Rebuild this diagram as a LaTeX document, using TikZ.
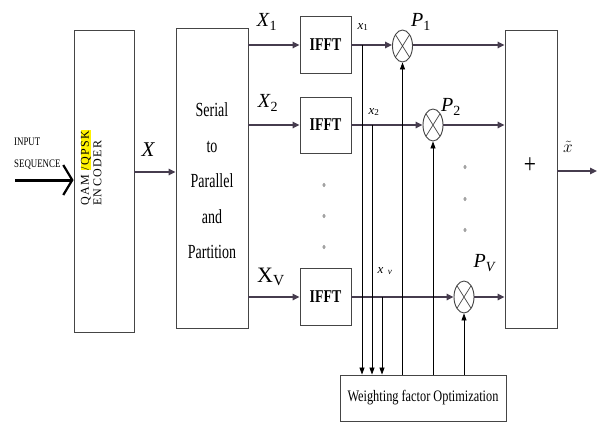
\documentclass[tikz,border=0pt]{standalone}
\usepackage{fontspec}
\setmainfont{Liberation Serif}[FakeStretch=0.77]
\newfontfamily\spfont{Liberation Serif}[FakeStretch=0.7]
\newfontfamily\lblfont{Liberation Serif}
\newfontfamily\encfont{Liberation Serif}[LetterSpace=12]
\usetikzlibrary{arrows.meta,shapes.geometric}
\definecolor{ln}{HTML}{463C4E}
\definecolor{bx}{HTML}{454545}
\begin{document}
\begin{tikzpicture}[x=1pt,y=-1pt,
  blk/.style={draw=bx,line width=0.9pt,inner sep=0pt,rectangle},
  mult/.style={draw=bx,line width=0.9pt,ellipse,minimum width=20pt,minimum height=32pt,inner sep=0pt,
    path picture={\draw[bx,line width=0.7pt] (path picture bounding box.north west)--(path picture bounding box.south east)
      (path picture bounding box.north east)--(path picture bounding box.south west);}},
  sig/.style={draw=ln,line width=1.5pt,-{Triangle[length=7pt,width=6.5pt]}},
  thin/.style={draw=black,line width=0.8pt,-{Triangle[length=7pt,width=5pt]}},
  dot/.style={ellipse,draw=gray,fill=lightgray,line width=0.5pt,inner sep=0pt,minimum width=2.5pt,minimum height=3.5pt},
  lbl/.style={font=\lblfont\fontsize{20}{20}\selectfont,inner sep=0pt},
  small/.style={font=\lblfont\fontsize{13}{13}\selectfont,inner sep=0pt},
  ifftbox/.style={blk,minimum width=51pt,font=\bfseries\fontsize{18}{18}\selectfont},
]
\useasboundingbox[fill=white] (0,0) rectangle (597,423);

% blocks
\node[blk,minimum width=60pt,minimum height=302pt] (enc) at (104,181) {};
\node[rotate=90,anchor=west,align=left,inner sep=0pt,font=\encfont\fontsize{12}{12.5}\selectfont] (enctxt) at (91,206)
  {QAM {\setlength\fboxsep{0.3pt}\colorbox{yellow}{/QPSK}}\\ENCODER};
\node[blk,minimum width=72pt,minimum height=300pt] (sp) at (212,178) {};
\node[align=center,inner sep=0pt,font=\spfont\fontsize{20}{35.5}\selectfont] (sptxt) at (212,181)
  {Serial\\to\\Parallel\\and\\Partition};
\node[ifftbox,minimum height=57pt] (f1) at (325.5,45) {IFFT};
\node[ifftbox,minimum height=56pt] (f2) at (325.5,125) {IFFT};
\node[ifftbox,minimum height=57pt] (f3) at (325.5,297) {IFFT};
\node[mult] (m1) at (402.5,46) {};
\node[mult] (m2) at (433,125) {};
\node[mult] (m3) at (464,297) {};
\node[blk,minimum width=52pt,minimum height=298pt] (sum) at (531,179) {};
\node[font=\fontsize{28}{28}\selectfont] (plus) at (530,166) {+};
\node[blk,minimum width=166pt,minimum height=46pt,font=\fontsize{16}{16}\selectfont] (wf) at (423,398) {Weighting factor Optimization};

% input
\coordinate (in) at (15,180);
\draw[line width=3pt,-{Straight Barb[length=9pt,width=30pt,line width=2.2pt]}] (in) -- (in -| enc.west);
\node[anchor=west,inner sep=0pt,font=\fontsize{11.5}{11.5}\selectfont] (tin) at (14,142) {INPUT};
\node[anchor=west,inner sep=0pt,font=\fontsize{11.5}{11.5}\selectfont] (tseq) at (14,165) {SEQUENCE};

% encoder -> s/p
\draw[sig] ([yshift=9pt]enc.east) -- ([yshift=9pt]enc.east -| sp.west);
\node[lbl,font=\lblfont\itshape\fontsize{21}{21}\selectfont] (lX) at (148,150) {X};

% s/p -> ifft
\draw[sig] (sp.east |- f1) -- (f1.west);
\draw[sig] (sp.east |- f2) -- (f2.west);
\draw[sig] (sp.east |- f3) -- (f3.west);
\node[lbl] (lX1) at (267,22) {\textit{X}\textsubscript{1}};
\node[lbl] (lX2) at (268,103) {\textit{X}\textsubscript{2}};
\node[lbl,font=\lblfont\fontsize{22}{22}\selectfont] (lXV) at (271,277) {X\textsubscript{V}};

% ifft -> multipliers
\draw[sig] (f1.east) -- (m1.west |- f1.east);
\draw[sig] (f2.east) -- (m2.west |- f2.east);
\draw[sig] (f3.east) -- (m3.west |- f3.east);
\node[small] (lx1) at (363,27) {\textit{x}\textsubscript{1}};
\node[small] (lx2) at (374,112) {\textit{x}\textsubscript{2}};
\node[small] (lxv) at (385,271) {\textit{x}\,\,\textsubscript{\textit{ν}}};

% branches down to optimizer
\coordinate (b1) at (362,45);
\coordinate (b2) at (372,125);
\coordinate (b3) at (382,297);
\draw[thin] (b1) -- (b1 |- wf.north);
\draw[thin] (b2) -- (b2 |- wf.north);
\draw[thin] (b3) -- (b3 |- wf.north);

% optimizer -> multipliers
\draw[thin] (m1.south |- wf.north) -- (m1.south);
\draw[thin] (m2.south |- wf.north) -- (m2.south);
\draw[thin] (m3.south |- wf.north) -- (m3.south);
\node[lbl] (lP1) at (421,22) {\textit{P}\textsubscript{1}};
\node[lbl] (lP2) at (451,107) {\textit{P}\textsubscript{2}};
\node[lbl] (lPV) at (485,263) {\textit{P}\textsubscript{\textit{V}}};

% multipliers -> sum
\draw[sig] (m1.east |- f1.east) -- (m1.east |- f1.east -| sum.west);
\draw[sig] (m2.east |- f2.east) -- (m2.east |- f2.east -| sum.west);
\draw[sig] (m3.east |- f3.east) -- (m3.east |- f3.east -| sum.west);

% output
\coordinate (out) at (597,171);
\draw[sig] (sum.east |- out) -- (out);
\node[inner sep=0pt,font=\fontsize{18}{18}\selectfont] (lxt) at (568,147) {$\tilde{x}$};

% dots
\node[dot] (d1) at (324,185) {};
\node[dot] (d2) at (324,216) {};
\node[dot] (d3) at (324,247) {};
\node[dot] (d4) at (465,167) {};
\node[dot] (d5) at (465,199) {};
\node[dot] (d6) at (465,230) {};
\end{tikzpicture}
\end{document}
